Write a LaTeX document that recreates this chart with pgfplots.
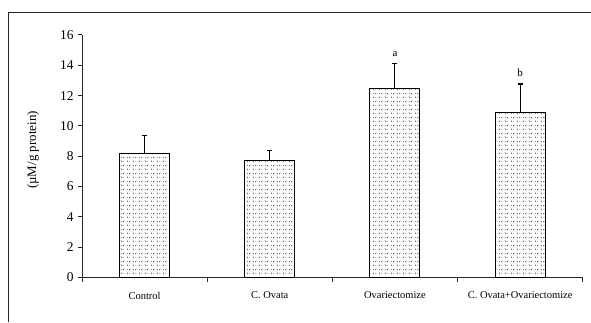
\documentclass[border=0pt]{standalone}
\usepackage{pgfplots}
\pgfplotsset{compat=1.18}
\usepackage{fontspec}
\setmainfont{Liberation Serif}
\usetikzlibrary{patterns}
\pgfdeclarepatternformonly{mydots}{\pgfpointorigin}{\pgfpoint{6bp}{8bp}}{\pgfpoint{6bp}{8bp}}{%
  \pgfpathcircle{\pgfpoint{1.5bp}{2bp}}{0.6bp}%
  \pgfpathcircle{\pgfpoint{4.5bp}{6bp}}{0.6bp}%
  \pgfpathcircle{\pgfpoint{1.5bp}{6bp}}{0.45bp}%
  \pgfpathcircle{\pgfpoint{4.5bp}{2bp}}{0.45bp}%
  \pgfusepath{fill}}
\begin{document}
\begin{tikzpicture}[x=1bp,y=1bp]
\useasboundingbox (0,0) rectangle (591,322);
\draw[line width=1.2bp, black!85] (8.3,0) -- (8.3,309.7) -- (591,309.7);
\begin{axis}[
  at={(82bp,44.5bp)}, anchor=south west,
  scale only axis, width=500.7bp, height=242.5bp,
  xmin=-0.5, xmax=3.5, ymin=0, ymax=16,
  axis x line*=bottom, axis y line*=left,
  axis line style={line width=1bp, black!85},
  tick align=outside, major tick length=4bp,
  tick style={line width=1bp, black!85},
  ytick={0,2,...,16},
  yticklabel style={font=\fontsize{13.5}{15}\selectfont, xshift=-1bp},
  /pgf/number format/assume math mode=true,
  xtick={-0.5,0.5,1.5,2.5,3.5}, xticklabels={},
  extra x ticks={0,1,2,3},
  extra x tick labels={Control,C. Ovata,Ovariectomize,C. Ovata+Ovariectomize},
  extra x tick style={major tick length=0pt, tick label style={font=\fontsize{10.5}{12}\selectfont, yshift=-11bp}},
]
\addplot[ybar, bar width=0.4, fill=white, pattern=mydots, draw=black, line width=1bp,
  error bars/.cd, y dir=plus, y explicit, error mark=|,
  error mark options={mark size=2.5bp, line width=1.2bp, draw=black},
  error bar style={line width=1bp, draw=black}]
  coordinates {(0,8.15) +- (0,1.2) (1,7.72) +- (0,0.67) (2,12.45) +- (0,1.65) (3,10.87) +- (0,1.9)};
\node[font=\fontsize{11}{12}\selectfont] at (axis cs:2,14.74) {a};
\node[font=\fontsize{11}{12}\selectfont] at (axis cs:3,13.5) {b};
\end{axis}
\node[rotate=90, font=\fontsize{13}{15}\selectfont] at (33,172) {(µM/g protein)};
\end{tikzpicture}
\end{document}
